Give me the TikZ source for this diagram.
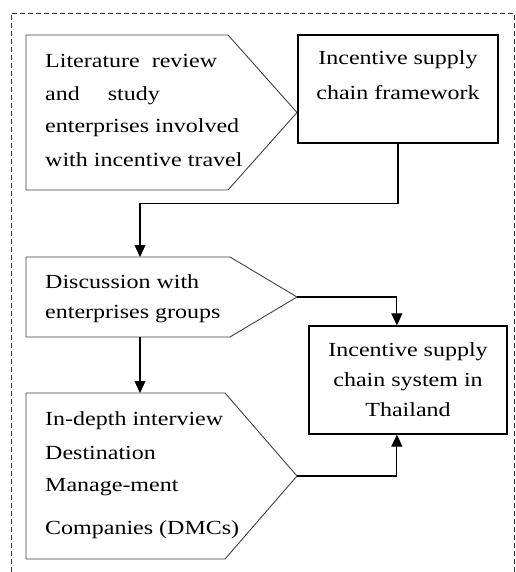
\documentclass[tikz,border=0pt]{standalone}
\usepackage{fontspec}
\setmainfont{Liberation Serif}[FakeStretch=1.2]
\usetikzlibrary{arrows.meta,calc}
\tikzset{
  frameline/.style={draw=black!80, line width=0.9pt, dash pattern=on 5pt off 3pt},
  pentline/.style={draw=black!75, line width=0.9pt},
  boxnode/.style={draw=black, line width=1.2pt, rectangle, inner sep=0pt},
  txt/.style={inner sep=0pt, anchor=base west, font=\fontsize{20}{24}\selectfont},
  ctxt/.style={inner sep=0pt, anchor=base, font=\fontsize{20}{24}\selectfont},
  flow/.style={draw=black, line width=1.1pt, -{Triangle[length=12pt,width=11pt]}},
}
\begin{document}
\begin{tikzpicture}[x=1pt,y=-1pt]
\useasboundingbox (0,0) rectangle (515,572);

% dashed outer frame
\draw[frameline] (11,580) -- (11,13) -- (514,13) -- (514,580);

% step shapes (pointed boxes)
\draw[pentline] (26,35) -- (228,35) -- (297,112.5) -- (228,190) -- (26,190) -- cycle;
\coordinate (p1tip) at (297,112.5);
\draw[pentline] (26,257) -- (230,257) -- (297,297) -- (230,337) -- (26,337) -- cycle;
\coordinate (p2top) at (140,257);
\coordinate (p2bot) at (140,337);
\coordinate (p2tip) at (297,297);
\draw[pentline] (26,393) -- (225,393) -- (297,476) -- (225,559) -- (26,559) -- cycle;
\coordinate (p3top) at (140,393);
\coordinate (p3tip) at (297,476);

% result boxes
\node[boxnode, minimum width=200pt, minimum height=108pt] (frame) at (398,89) {};
\node[boxnode, minimum width=198pt, minimum height=108pt] (system) at (408,380) {};

% texts of the first step
\node[txt] (t1a) at (45,68) {Literature\hspace{6pt} review};
\node[txt] (t1b) at (45,101) {and\hspace{22pt} study};
\node[txt] (t1c) at (45,133) {enterprises involved};
\node[txt] (t1d) at (45,166) {with incentive travel};

% texts of the second step
\node[txt] (t2a) at (45,288) {Discussion with};
\node[txt] (t2b) at (45,318) {enterprises groups};

% texts of the third step
\node[txt] (t3a) at (45,425) {In-depth interview};
\node[txt] (t3b) at (45,459) {Destination};
\node[txt] (t3c) at (45,491) {Manage-ment};
\node[txt] (t3d) at (45,534) {Companies (DMCs)};

% box texts
\node[ctxt] (f1) at (398,65) {Incentive supply};
\node[ctxt] (f2) at (398,100) {chain framework};
\node[ctxt] (s1) at (408,356) {Incentive supply};
\node[ctxt] (s2) at (408,386) {chain system in};
\node[ctxt] (s3) at (408,416) {Thailand};

% connectors
\coordinate (sysin) at ($(system.north west)!0.444!(system.north east)$);
\coordinate (sysout) at ($(system.south west)!0.444!(system.south east)$);
\draw[flow] (frame.south) -- ($(frame.south)+(0,60)$) -| (p2top);
\draw[flow] (p2bot) -- (p3top);
\draw[flow] (p2tip) -| (sysin);
\draw[flow] (p3tip) -| (sysout);
\end{tikzpicture}
\end{document}
